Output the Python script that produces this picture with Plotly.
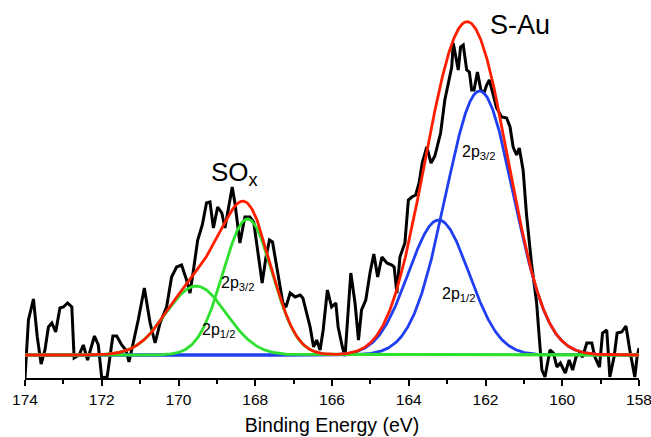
import numpy as np
import plotly.graph_objects as go

# ---- measured spectrum (binding energy in eV, intensity in a.u.) ----
energy = [174.00, 173.91, 173.78, 173.68, 173.58, 173.48, 173.39, 173.30, 173.20, 173.09,
          173.00, 172.89, 172.78, 172.72, 172.59, 172.48, 172.37, 172.28, 172.19, 172.09,
          172.00, 171.86, 171.71, 171.61, 171.48, 171.37, 171.29, 171.18, 171.05, 170.89,
          170.74, 170.61, 170.48, 170.31, 170.18, 170.05, 169.92, 169.79, 169.70, 169.61,
          169.50, 169.38, 169.27, 169.18, 169.09, 168.98, 168.87, 168.79, 168.68, 168.60,
          168.53, 168.40, 168.27, 168.14, 168.04, 167.92, 167.82, 167.72, 167.63, 167.55,
          167.44, 167.36, 167.28, 167.20, 167.09, 166.96, 166.83, 166.76, 166.66, 166.57,
          166.48, 166.40, 166.31, 166.23, 166.12, 166.01, 165.90, 165.84, 165.73, 165.66,
          165.51, 165.40, 165.31, 165.23, 165.12, 165.01, 164.91, 164.81, 164.70, 164.57,
          164.44, 164.38, 164.31, 164.23, 164.10, 164.01, 163.92, 163.82, 163.73, 163.65,
          163.53, 163.42, 163.32, 163.17, 163.06, 162.97, 162.88, 162.84, 162.77, 162.71,
          162.65, 162.58, 162.49, 162.42, 162.36, 162.30, 162.21, 162.12, 162.04, 161.97,
          161.90, 161.81, 161.71, 161.58, 161.45, 161.36, 161.28, 161.19, 161.12, 161.02,
          160.93, 160.80, 160.67, 160.60, 160.53, 160.45, 160.32, 160.23, 160.14, 160.05,
          159.92, 159.82, 159.73, 159.64, 159.55, 159.47, 159.36, 159.23, 159.15, 159.03,
          158.95, 158.84, 158.76, 158.65, 158.57, 158.45, 158.34, 158.24, 158.15, 158.11,
          158.05, 158.00]
intensity = [0, 58, 79, 41, 14, 28, 51, 55, 46, 70,
             71, 75, 71, 20, 23, 33, 18, 31, 42, 33,
             0, 1, 42, 42, 33, 28, 16, 35, 58, 90,
             55, 35, 55, 71, 101, 111, 113, 98, 85, 108,
             138, 153, 175, 176, 150, 171, 165, 150, 175, 191,
             175, 135, 161, 161, 156, 125, 95, 121, 138, 136,
             111, 95, 75, 71, 85, 81, 83, 80, 65, 51,
             31, 38, 28, 48, 88, 71, 75, 51, 31, 22,
             105, 75, 38, 68, 78, 105, 124, 101, 121, 115,
             113, 111, 85, 121, 135, 178, 181, 183, 195, 215,
             231, 215, 222, 245, 278, 296, 311, 335, 318, 308,
             331, 333, 308, 306, 288, 288, 306, 288, 285, 293,
             298, 285, 270, 261, 260, 251, 231, 223, 230, 208,
             163, 114, 76, 41, 8, 1, 28, 25, 11, 15,
             5, 18, 8, 21, 25, 21, 35, 35, 21, 11,
             45, 48, 1, 21, 45, 46, 52, 28, 8, 1,
             21, 30]

# ---- fitted components (Gaussian: centre eV, height, sigma eV) ----
baseline = 23
sox_centers = [169.54, 168.20]      # 2p1/2, 2p3/2
sox_heights = [69, 136]
sox_sigmas = [0.78, 0.64]
sau_centers = [163.22, 162.15]      # 2p1/2, 2p3/2
sau_heights = [135, 264]
sau_sigmas = [0.79, 0.885]

tick_vals = [174, 172, 170, 168, 166, 164, 162, 160, 158]

RED = "#ff1f00"
GREEN = "#2fe02f"
BLUE = "#1f3ff0"

grid = np.linspace(158, 174, 1601)


def gauss(x, c, h, s):
    return h * np.exp(-((x - c) ** 2) / (2 * s ** 2))


sox_comp = [gauss(grid, c, h, s) for c, h, s in zip(sox_centers, sox_heights, sox_sigmas)]
sau_comp = [gauss(grid, c, h, s) for c, h, s in zip(sau_centers, sau_heights, sau_sigmas)]
envelope = baseline + sum(sox_comp) + sum(sau_comp)

fig = go.Figure()
fig.add_trace(go.Scatter(x=energy, y=intensity, mode="lines",
                         line=dict(color="black", width=3)))
for comp in sau_comp:
    fig.add_trace(go.Scatter(x=grid, y=baseline + comp, mode="lines",
                             line=dict(color=BLUE, width=2.8)))
for comp in sox_comp:
    fig.add_trace(go.Scatter(x=grid, y=baseline + comp, mode="lines",
                             line=dict(color=GREEN, width=2.8)))
fig.add_trace(go.Scatter(x=grid, y=envelope, mode="lines",
                         line=dict(color=RED, width=2.8)))

FONT = "Liberation Sans, Arial, sans-serif"
ann = [
    dict(x=161.10, y=353, text="S-Au", font=dict(size=27), xanchor="center", yanchor="middle"),
    dict(x=169.20, y=205, text="SO<sub>x</sub>", font=dict(size=26), xanchor="left", yanchor="middle"),
    dict(x=168.95, y=95, text="2p<sub>3/2</sub>", font=dict(size=16), xanchor="left", yanchor="middle"),
    dict(x=169.44, y=48, text="2p<sub>1/2</sub>", font=dict(size=16), xanchor="left", yanchor="middle"),
    dict(x=162.66, y=226, text="2p<sub>3/2</sub>", font=dict(size=16), xanchor="left", yanchor="middle"),
    dict(x=163.19, y=84, text="2p<sub>1/2</sub>", font=dict(size=16), xanchor="left", yanchor="middle"),
]
for a in ann:
    a.update(xref="x", yref="y", showarrow=False)
    a["font"].update(color="black", family=FONT)

fig.update_layout(
    width=651, height=437,
    margin=dict(l=25, r=12, t=0, b=59),
    paper_bgcolor="white", plot_bgcolor="white",
    showlegend=False,
    font=dict(family=FONT, color="black"),
    annotations=ann,
    xaxis=dict(
        range=[174, 158], tickvals=tick_vals, ticktext=[str(v) for v in tick_vals],
        showgrid=False, zeroline=False, automargin=False,
        showline=True, linecolor="black", linewidth=2,
        ticks="outside", ticklen=6, tickwidth=1.5, tickcolor="black",
        tickfont=dict(size=15.5, family=FONT, color="black"),
        ticklabeloverflow="allow",
        minor=dict(dtick=1, ticks="outside", ticklen=4, tickwidth=1.5, tickcolor="black", showgrid=False),
        title=dict(text="Binding Energy (eV)", font=dict(size=19.5, family=FONT, color="black"), standoff=12),
    ),
    yaxis=dict(range=[0, 378], visible=False, showgrid=False, zeroline=False),
)

# remove the browser's default page margin so the figure fills the window exactly
fig.write_html(
    "out.html",
    config={"displayModeBar": False},
    post_script="document.body.style.margin='0px';document.body.style.overflow='hidden';",
)
